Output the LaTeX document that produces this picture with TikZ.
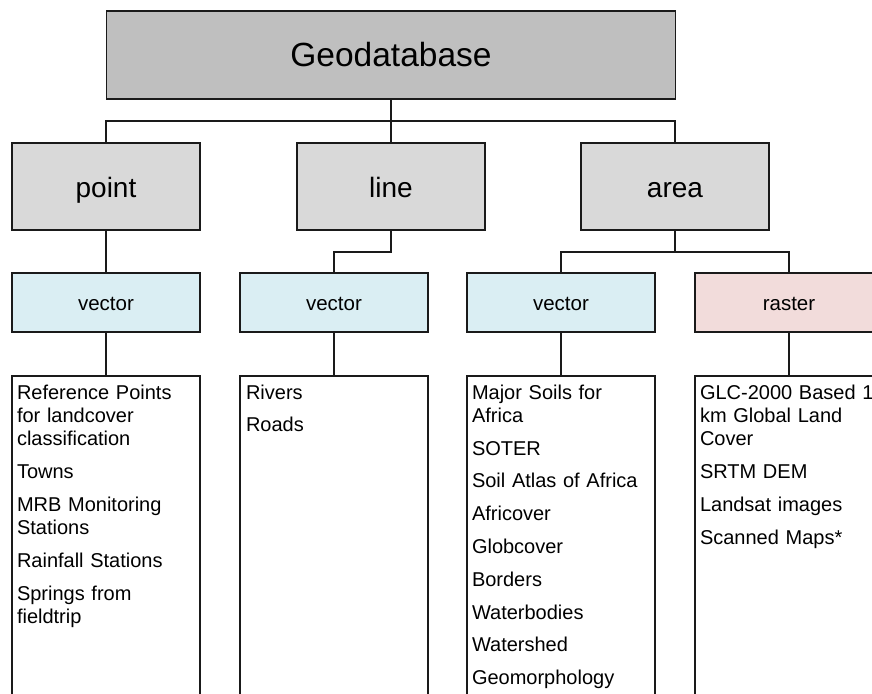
\documentclass[tikz,border=0pt]{standalone}
\usepackage{fontspec}
\setmainfont{Liberation Sans}
\definecolor{geofill}{HTML}{BFBFBF}
\definecolor{catfill}{HTML}{D9D9D9}
\definecolor{vecfill}{HTML}{DAEEF3}
\definecolor{rasfill}{HTML}{F2DCDB}
\definecolor{edge}{HTML}{1A1A1A}
\begin{document}
\begin{tikzpicture}[x=1pt,y=-1pt,
  box/.style={draw=edge, line width=1.6pt, rectangle, inner sep=0pt, outer sep=0pt},
  geobox/.style={box, fill=geofill, minimum width=569pt, minimum height=88pt,
    font=\fontsize{33.5}{40}\selectfont, text height=23.4pt, text depth=0pt},
  catbox/.style={box, fill=catfill, minimum width=188pt, minimum height=87pt,
    font=\fontsize{28}{33}\selectfont, text height=21pt, text depth=0pt},
  typebox/.style={box, minimum width=188pt, minimum height=59pt,
    font=\fontsize{20.5}{24}\selectfont, text height=15pt, text depth=0pt},
  listbox/.style={box, fill=white, minimum width=188pt, minimum height=344pt},
  listtext/.style={inner sep=0pt, outer sep=0pt, anchor=north west, align=left,
    text width=185pt, font=\fontsize{20}{23.3}\selectfont},
  conn/.style={draw=edge, line width=1.3pt}]
\useasboundingbox (0,0) rectangle (872,693);
\clip (0,0) rectangle (872,693);

% level 0
\node[geobox] (geo) at (391,55) {Geodatabase};
% level 1
\node[catbox] (point) at (106,186.5) {point};
\node[catbox] (line) at (391,186.5) {line};
\node[catbox] (area) at (675,186.5) {area};
% level 2
\node[typebox, fill=vecfill] (v1) at (106,302.5) {vector};
\node[typebox, fill=vecfill] (v2) at (334,302.5) {vector};
\node[typebox, fill=vecfill] (v3) at (561,302.5) {vector};
\node[typebox, fill=rasfill] (rs) at (789,302.5) {raster};
% level 3 boxes
\node[listbox] (l1) at (106,548) {};
\node[listbox] (l2) at (334,548) {};
\node[listbox] (l3) at (561,548) {};
\node[listbox] (l4) at (789,548) {};

% list texts
\node[listtext] (t1) at ([shift={(5,6.7)}]l1.north west)
  {\strut Reference Points\\for landcover\\classification\\[9.5pt]
   Towns\\[9.5pt]
   MRB Monitoring\\Stations\\[9.5pt]
   Rainfall Stations\\[9.5pt]
   Springs from\\fieldtrip};
\node[listtext] (t2) at ([shift={(6,6.7)}]l2.north west)
  {\strut Rivers\\[9.5pt]
   Roads};
\node[listtext] (t3) at ([shift={(5,6.7)}]l3.north west)
  {\strut Major Soils for\\Africa\\[9.5pt]
   SOTER\\[9.5pt]
   Soil Atlas of Africa\\[9.5pt]
   Africover\\[9.5pt]
   Globcover\\[9.5pt]
   Borders\\[9.5pt]
   Waterbodies\\[9.5pt]
   Watershed\\[9.5pt]
   Geomorphology};
\node[listtext] (t4) at ([shift={(5,6.7)}]l4.north west)
  {\strut GLC-2000 Based 1\\km Global Land\\Cover\\[9.5pt]
   SRTM DEM\\[9.5pt]
   Landsat images\\[9.5pt]
   Scanned Maps*};

% connectors
\coordinate (j1) at (391,121);
\coordinate (j2) at (391,252);
\coordinate (j3) at (675,252);
\draw[conn] (geo.south) -- (j1);
\draw[conn] (point.north) |- (j1) -| (area.north);
\draw[conn] (j1) -- (line.north);
\draw[conn] (point.south) -- (v1.north);
\draw[conn] (line.south) -- (j2) -| (v2.north);
\draw[conn] (area.south) -- (j3);
\draw[conn] (v3.north) |- (j3) -| (rs.north);
\draw[conn] (v1.south) -- (l1.north);
\draw[conn] (v2.south) -- (l2.north);
\draw[conn] (v3.south) -- (l3.north);
\draw[conn] (rs.south) -- (l4.north);
\end{tikzpicture}
\end{document}
